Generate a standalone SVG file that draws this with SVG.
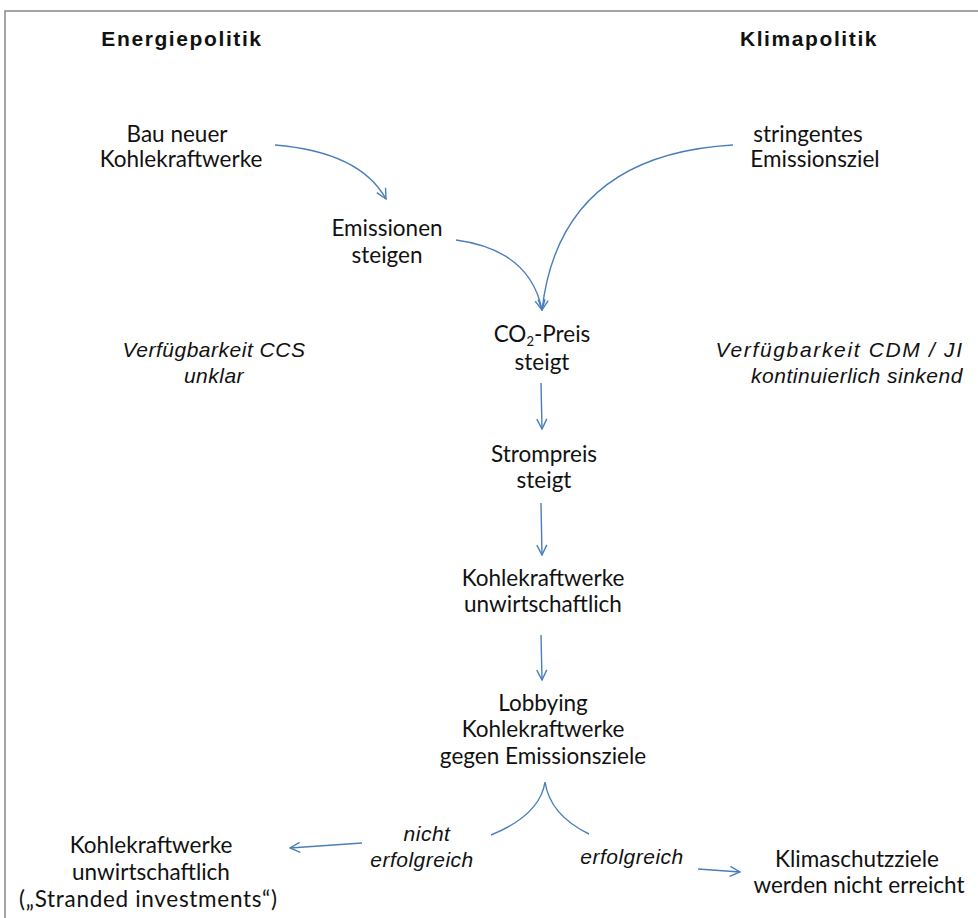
<svg xmlns="http://www.w3.org/2000/svg" width="978" height="918" viewBox="0 0 978 918">
<defs>
<style>
.t{font-family:Lato,"Liberation Sans",sans-serif;font-size:22.5px;fill:#111;text-anchor:middle}
.b{font-family:"Liberation Sans",Arial,sans-serif;font-weight:bold;font-size:21px;letter-spacing:1.6px}
.i{font-family:"Liberation Sans",Arial,sans-serif;font-style:italic;font-size:21px;letter-spacing:0.5px}
.c{fill:none;stroke:#4a7ebb;stroke-width:1.4}
</style>
<marker id="ah" viewBox="0 0 12 12" refX="11" refY="6" markerWidth="12" markerHeight="12" markerUnits="userSpaceOnUse" orient="auto">
<path d="M1,1 L11,6 L1,11" fill="none" stroke="#4a7ebb" stroke-width="1.4"/>
</marker>
</defs>
<rect x="0" y="0" width="978" height="918" fill="#fff"/>
<path d="M5,918 V11 H978" fill="none" stroke="#888" stroke-width="1.5"/>
<g id="energiepolitik"><text class="t b" x="182" y="46">Energiepolitik</text></g>
<g id="klimapolitik"><text class="t b" x="809" y="46">Klimapolitik</text></g>
<g id="bau"><text class="t" x="177" y="142">Bau neuer</text><text class="t" x="181" y="167">Kohlekraftwerke</text></g>
<g id="ziel"><text class="t" x="808" y="142">stringentes</text><text class="t" x="815" y="167">Emissionsziel</text></g>
<g id="emissionen"><text class="t" x="387" y="236">Emissionen</text><text class="t" x="387" y="263">steigen</text></g>
<g id="co2"><text class="t" x="542" y="342">CO<tspan font-size="13" dy="4">2</tspan><tspan dy="-4">-Preis</tspan></text><text class="t" x="542" y="370">steigt</text></g>
<g id="ccs"><text class="t i" x="214" y="357">Verfügbarkeit CCS</text><text class="t i" x="214" y="383">unklar</text></g>
<g id="cdm"><text class="t i" x="839" y="357" textLength="247">Verfügbarkeit CDM / JI</text><text class="t i" x="857" y="383">kontinuierlich sinkend</text></g>
<g id="strompreis"><text class="t" x="544" y="462">Strompreis</text><text class="t" x="544" y="488">steigt</text></g>
<g id="unwirt"><text class="t" x="543" y="586">Kohlekraftwerke</text><text class="t" x="543" y="612">unwirtschaftlich</text></g>
<g id="lobbying"><text class="t" x="543" y="711">Lobbying</text><text class="t" x="543" y="737">Kohlekraftwerke</text><text class="t" x="543" y="764">gegen Emissionsziele</text></g>
<g id="nicht"><text class="t i" x="427" y="841">nicht</text><text class="t i" x="422" y="867">erfolgreich</text></g>
<g id="erfolgreich"><text class="t i" x="632" y="864">erfolgreich</text></g>
<g id="stranded"><text class="t" x="151" y="853">Kohlekraftwerke</text><text class="t" x="151" y="880">unwirtschaftlich</text><text class="t" x="148" y="907" textLength="258">(„Stranded investments“)</text></g>
<g id="klimaschutz"><text class="t" x="857" y="867">Klimaschutzziele</text><text class="t" x="859" y="893">werden nicht erreicht</text></g>
<g id="connectors">
<path class="c" d="M275,145 Q360,152 386,199" marker-end="url(#ah)"/>
<path class="c" d="M456,240 Q530,250 542,310" marker-end="url(#ah)"/>
<path class="c" d="M733,145 Q560,155 542,310" marker-end="url(#ah)"/>
<path class="c" d="M541,383 L542,429" marker-end="url(#ah)"/>
<path class="c" d="M541,503 L542,555" marker-end="url(#ah)"/>
<path class="c" d="M541,635 L542,680" marker-end="url(#ah)"/>
<path class="c" d="M491,835 Q540,815 545,782 Q550,815 589,834"/>
<path class="c" d="M362,843 L290,848" marker-end="url(#ah)"/>
<path class="c" d="M698,869 L740,872" marker-end="url(#ah)"/>
</g>
</svg>
